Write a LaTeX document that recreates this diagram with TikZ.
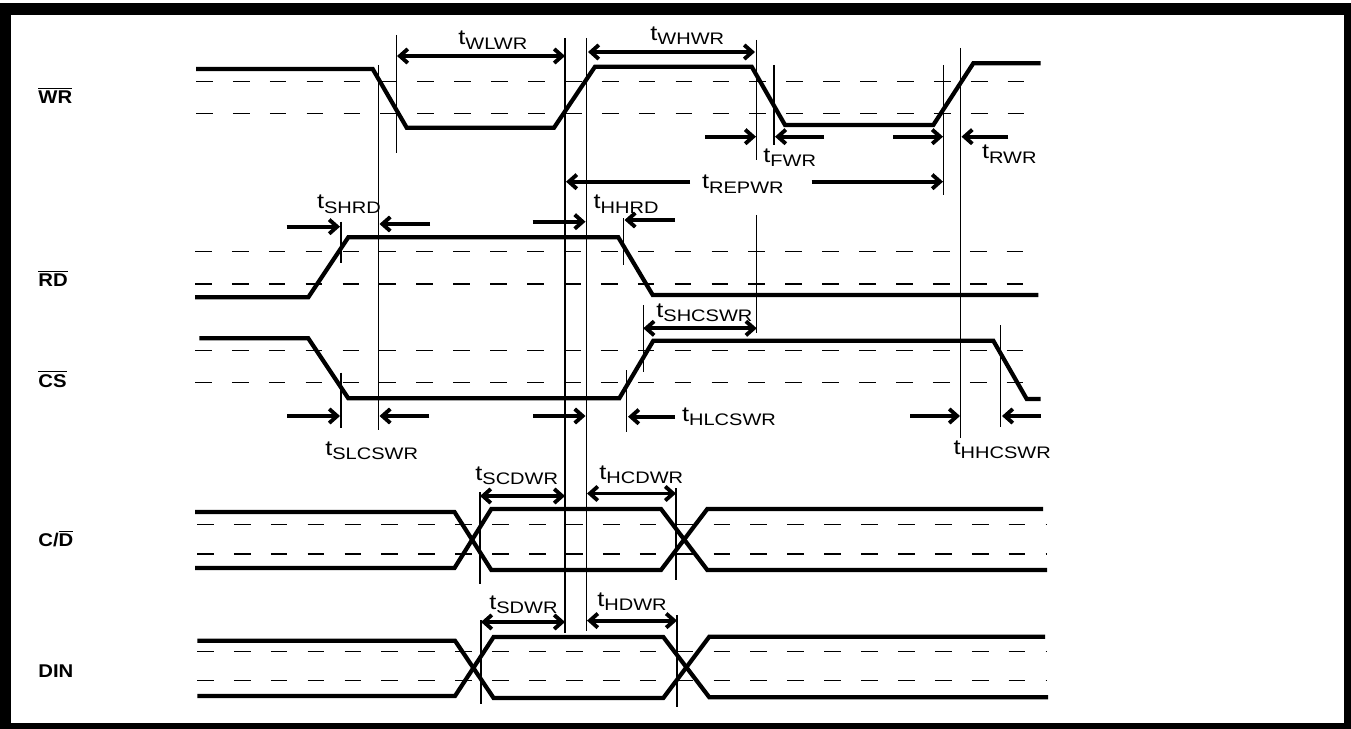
\documentclass[tikz,border=0pt]{standalone}
\usepackage{fontspec}
\setmainfont[FakeStretch=1.1]{Liberation Sans}
\newfontfamily\tfont[FakeStretch=1.2]{Liberation Sans}
\usetikzlibrary{arrows.meta}
\newcommand{\tlab}[1]{{\tfont\fontsize{12}{14}\selectfont t\raisebox{-2.4pt}{\fontsize{9.5}{10}\selectfont #1}}}
\newcommand{\ovl}[1]{$\overline{\mbox{#1}}$}

\begin{document}
\begin{tikzpicture}[x=0.02cm, y=-0.02cm,
  sigline/.style={line width=2.4pt, line join=miter},
  thrline/.style={line width=0.7pt, dash pattern=on 9.5pt off 11.5pt},
  vline/.style={line width=0.7pt},
  tarr/.style={line width=2.2pt, -{Straight Barb[length=4.5pt,width=8pt]}},
  darr/.style={line width=2.2pt, {Straight Barb[length=4.5pt,width=8pt]}-{Straight Barb[length=4.5pt,width=8pt]}},
  tname/.style={inner sep=0pt, anchor=base west},
  sname/.style={inner sep=0pt, anchor=base west, font=\bfseries\fontsize{10.5}{12}\selectfont}]
\useasboundingbox (0,0) rectangle (1351,729);
\fill[black] (0,3) rectangle (1351,729);
\fill[white] (11,15) rectangle (1344,723);

% signal names
\node[sname] (nWR) at (38,103.3) {\ovl{WR}};
\node[sname] (nRD) at (38,286.7) {\ovl{RD}};
\node[sname] (nCS) at (38,387) {\ovl{CS}};
\node[sname] (nCD) at (38,546) {C/\ovl{D}};
\node[sname] (nDIN) at (38,677.5) {DIN};

% thresholds
\draw[thrline] (196,81.7) -- (1030,81.7);
\draw[thrline] (196,113.3) -- (1030,113.3);
\draw[thrline] (195,251.7) -- (1030,251.7);
\draw[thrline] (195,284) -- (1030,284);
\draw[thrline] (195,350.7) -- (1030,350.7);
\draw[thrline] (195,382.7) -- (1030,382.7);
\draw[thrline] (197,524.5) -- (1047,524.5);
\draw[thrline] (197,554) -- (1047,554);
\draw[thrline] (197,651.7) -- (1047,651.7);
\draw[thrline] (197,680.5) -- (1047,680.5);

% waveforms
\draw[sigline] (196,69) -- (372.7,69) -- (406.7,127.7) -- (554,127.7) -- (595,66.7) -- (751.7,66.7)
  -- (785,125) -- (933.3,125) -- (973.3,63.3) -- (1040.7,63.3);
\draw[sigline] (195,297.3) -- (308.3,297.3) -- (348.3,237.3) -- (618.3,237.3) -- (652.7,295) -- (1038.3,295);
\draw[sigline] (199.3,338.3) -- (308.3,338.3) -- (348.3,398.3) -- (619.3,398.3) -- (653.3,340.7)
  -- (993.3,340.7) -- (1026.7,399) -- (1040.7,399);
\draw[sigline] (195,512) -- (454.5,512) -- (491.3,570) -- (661,570) -- (707.3,509) -- (1043,509);
\draw[sigline] (195,568) -- (454.5,568) -- (491.3,509) -- (661,509) -- (707.3,570) -- (1047,570);
\draw[sigline] (197.4,640.7) -- (455,640.7) -- (493.6,698) -- (663.3,698) -- (709.3,636.7) -- (1045,636.7);
\draw[sigline] (197.4,696) -- (455,696) -- (493.6,637) -- (663.3,637) -- (709.3,697.3) -- (1048,697.3);

% timing markers
\draw[vline] (378.3,65) -- (378.3,430);
\draw[vline] (396.7,35) -- (396.7,153.3);
\draw[vline] (565,38) -- (565,633);
\draw[vline] (586.7,38) -- (586.7,631);
\draw[vline] (756.7,40) -- (756.7,160);
\draw[vline] (774,65) -- (774,145);
\draw[vline] (943.3,65) -- (943.3,195);
\draw[vline] (960.7,48) -- (960.7,438);
\draw[vline] (341,221.7) -- (341,262.7);
\draw[vline] (623.3,218.3) -- (623.3,265);
\draw[vline] (756.7,215) -- (756.7,333);
\draw[vline] (341,372.7) -- (341,428.3);
\draw[vline] (626.7,370) -- (626.7,431.7);
\draw[vline] (643.3,305) -- (643.3,371.7);
\draw[vline] (1000.7,325) -- (1000.7,426.7);
\draw[vline] (480,492) -- (480,584);
\draw[vline] (481,620) -- (481,704);
\draw[vline] (676,488) -- (676,580);
\draw[vline] (677,615) -- (677,707);

% timing arrows
\draw[darr] (397,56) -- (565,56);
\draw[darr] (588,52) -- (755,52);
\draw[tarr] (705,136.7) -- (756,136.7);
\draw[tarr] (824,136.7) -- (775,136.7);
\draw[tarr] (893.3,136.7) -- (943,136.7);
\draw[tarr] (1008.3,136.7) -- (961.5,136.7);
\draw[tarr] (690,181.7) -- (566,181.7);
\draw[tarr] (811.7,181.7) -- (943,181.7);
\draw[tarr] (286.7,226.7) -- (340,226.7);
\draw[tarr] (430,224) -- (379.5,224);
\draw[tarr] (532.7,221.7) -- (585.5,221.7);
\draw[tarr] (675,220) -- (624.5,220);
\draw[darr] (643.3,328.3) -- (756.7,328.3);
\draw[tarr] (287.3,416) -- (340,416);
\draw[tarr] (429.3,416) -- (379.5,416);
\draw[tarr] (533.3,416) -- (585.5,416);
\draw[tarr] (675,416.7) -- (628,416.7);
\draw[tarr] (910,416) -- (960,416);
\draw[tarr] (1040.7,416) -- (1002,416);
\draw[darr] (480,496) -- (565,496);
\draw[darr] (587,493.5) -- (676,493.5);
\draw[darr] (481,622) -- (565,622);
\draw[darr] (587,620.6) -- (677,620.6);

% timing names
\node[tname] (tWLWR) at (458,45) {\tlab{WLWR}};
\node[tname] (tWHWR) at (650,40.7) {\tlab{WHWR}};
\node[tname] (tFWR) at (763,162.4) {\tlab{FWR}};
\node[tname] (tRWR) at (981.7,159) {\tlab{RWR}};
\node[tname] (tREPWR) at (701.7,189) {\tlab{REPWR}};
\node[tname] (tSHRD) at (316.7,209) {\tlab{SHRD}};
\node[tname] (tHHRD) at (593.3,209) {\tlab{HHRD}};
\node[tname] (tSHCSWR) at (656,317.4) {\tlab{SHCSWR}};
\node[tname] (tSLCSWR) at (325,455.7) {\tlab{SLCSWR}};
\node[tname] (tHLCSWR) at (681.7,421.7) {\tlab{HLCSWR}};
\node[tname] (tHHCSWR) at (953.3,454) {\tlab{HHCSWR}};
\node[tname] (tSCDWR) at (475,480.7) {\tlab{SCDWR}};
\node[tname] (tHCDWR) at (599,479) {\tlab{HCDWR}};
\node[tname] (tSDWR) at (489,609.7) {\tlab{SDWR}};
\node[tname] (tHDWR) at (597,606) {\tlab{HDWR}};
\end{tikzpicture}
\end{document}
